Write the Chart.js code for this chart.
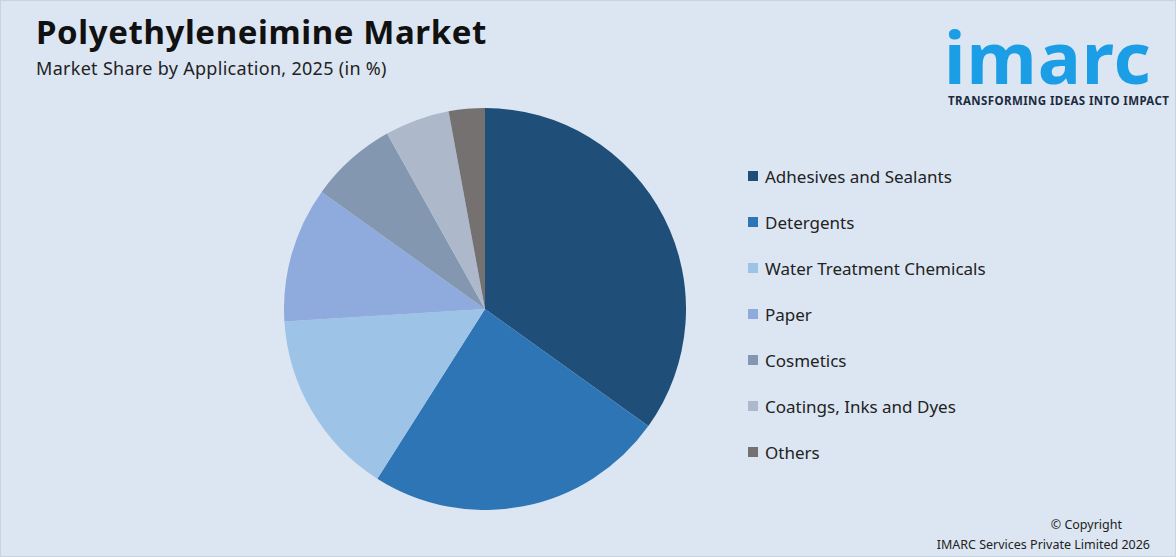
<!DOCTYPE html>
<html><head><meta charset="utf-8">
<script src="https://cdn.jsdelivr.net/npm/chart.js@4/dist/chart.umd.min.js"></script>
<style>
body{margin:0;width:1176px;height:557px;background:#dce6f2;font-family:"Segoe UI","Noto Sans",Arial,sans-serif;position:relative;overflow:hidden;border:0}
#frame{position:absolute;left:0;top:0;width:1174px;height:555px;border:1px solid #c8d3e0}
h1{position:absolute;left:36px;top:9px;margin:0;font-size:33px;font-weight:bold;color:#111;letter-spacing:0.6px}
#sub{position:absolute;left:36px;top:56px;font-size:18px;color:#222;letter-spacing:0.3px}
#logo{position:absolute;left:944px;top:16px;font-family:"Noto Sans",Arial;font-size:72px;font-weight:bold;color:#1c9ee6;letter-spacing:1px;line-height:80px}
#tag{position:absolute;left:948px;top:93px;font-size:11.5px;font-weight:bold;color:#1b2b40;letter-spacing:0.4px}
#wrap{position:absolute;left:284px;top:108px;width:402px;height:402px}
#legend{position:absolute;left:748px;top:165px;font-size:17px;color:#222}
#legend div{height:46px;display:flex;align-items:flex-start}
#legend span{display:inline-block;width:10px;height:10px;margin:6px 7px 0 0}
#copy{position:absolute;right:26px;top:515px;text-align:right;font-size:12.5px;color:#222;line-height:20px}
#copy div:first-child{margin-right:28px}
</style></head><body>
<div id="frame"></div>
<h1>Polyethyleneimine Market</h1>
<div id="sub">Market Share by Application, 2025 (in %)</div>
<div id="logo">imarc</div>
<div id="tag">TRANSFORMING IDEAS INTO IMPACT</div>
<div id="wrap"><canvas id="c" width="402" height="402"></canvas></div>
<div id="legend"></div>
<div id="copy"><div>© Copyright</div><div>IMARC Services Private Limited 2026</div></div>
<script>
// categories and shares
let categories = ['Adhesives and Sealants','Detergents','Water Treatment Chemicals','Paper','Cosmetics','Coatings, Inks and Dyes','Others'];
let shares = [34.9, 24.1, 15.0, 10.9, 7.0, 5.2, 2.9];
let colors = ['#1f4e79','#2e75b6','#9dc3e6','#8faadc','#8497b0','#adb9ca','#767171'];

let legend = document.getElementById('legend');
categories.forEach(function(name, i) {
    let row = document.createElement('div');
    row.innerHTML = '<span style="background:' + colors[i] + '"></span>' + name;
    legend.appendChild(row);
});

new Chart(document.getElementById('c'), {
    type: 'pie',
    data: {
        labels: categories,
        datasets: [{ data: shares, backgroundColor: colors, borderWidth: 0 }]
    },
    options: {
        responsive: false,
        animation: false,
        layout: { padding: 0 },
        plugins: { legend: { display: false }, tooltip: { enabled: false } }
    }
});
</script>
</body></html>
